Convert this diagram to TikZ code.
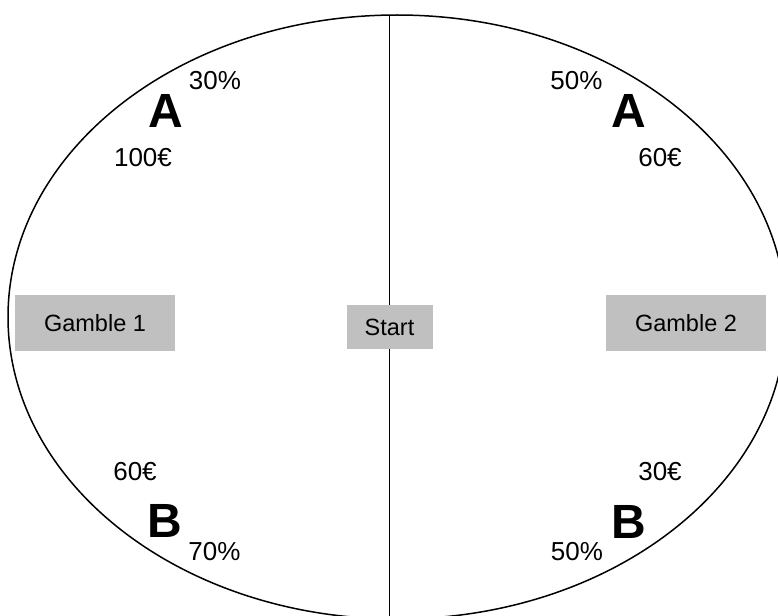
\documentclass[tikz,border=0pt]{standalone}
\usepackage{fontspec}
\setmainfont{Liberation Sans}
\usetikzlibrary{positioning}
\definecolor{boxGray}{RGB}{192,192,192}

\begin{document}
\begin{tikzpicture}[x=1pt, y=-1pt,
    gamblebox/.style={fill=boxGray, inner sep=0pt, minimum width=160pt,
      minimum height=56pt, font=\fontsize{23.5}{28}\selectfont},
    startbox/.style={fill=boxGray, inner sep=0pt, minimum width=86pt,
      minimum height=44pt, font=\fontsize{23.5}{28}\selectfont},
    outcome/.style={anchor=base, inner sep=0pt, font=\fontsize{48}{56}\selectfont\bfseries},
    amount/.style={anchor=base, inner sep=0pt, font=\fontsize{26}{31}\selectfont}]
  \useasboundingbox (0,0) rectangle (778,615);
  \clip (0,0) rectangle (778,615);
  \draw[line width=1.5pt] (397,317) ellipse [x radius=389pt, y radius=302pt];
  % boxes
  \node[gamblebox] (g1) at (95,323) {Gamble 1};
  \node[gamblebox] (g2) at (686,323) {Gamble 2};
  \node[startbox] (start) at (389.5,327) {Start};
  \coordinate (top) at (389.5,15);
  \coordinate (bottom) at (389.5,616);
  \draw[line width=1.5pt] (top) -- (start);
  \draw[line width=1.5pt] (start) -- (bottom);
  % gamble 1
  \node[outcome] (a1) at (165.5,128) {A};
  \node[amount] (pa1) at (215,90) {30\%};
  \node[amount] (va1) at (143,166) {100€};
  \node[outcome] (b1) at (165,537) {B};
  \node[amount] (vb1) at (135,480) {60€};
  \node[amount] (pb1) at (214.5,560) {70\%};
  % gamble 2
  \node[outcome] (a2) at (628.5,128) {A};
  \node[amount] (pa2) at (576.5,90) {50\%};
  \node[amount] (va2) at (660,166) {60€};
  \node[outcome] (b2) at (628.5,538) {B};
  \node[amount] (vb2) at (660,480) {30€};
  \node[amount] (pb2) at (577,560) {50\%};
\end{tikzpicture}
\end{document}
